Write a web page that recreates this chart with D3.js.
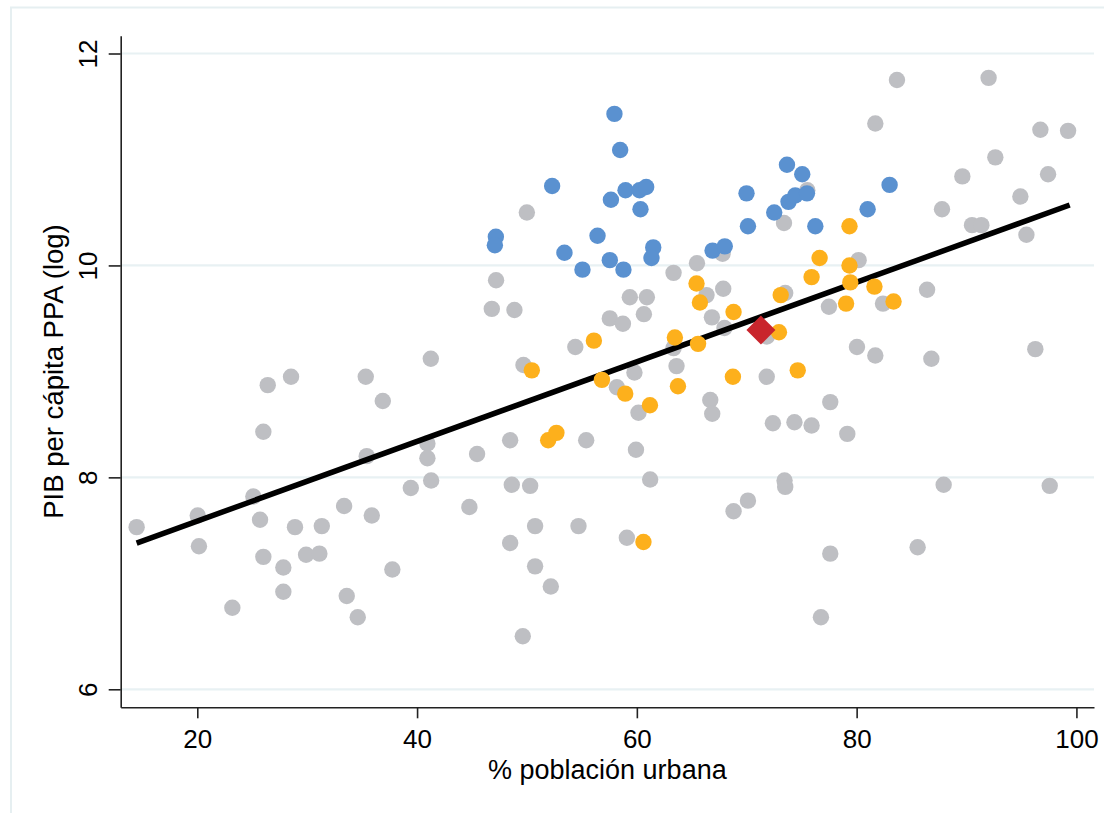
<!DOCTYPE html>
<html>
<head>
<meta charset="utf-8">
<script src="https://cdn.jsdelivr.net/npm/d3@7"></script>
<style>
  html, body { margin: 0; padding: 0; background: #ffffff; }
  svg { display: block; }
  text { font-family: Arial, "Liberation Sans", Helvetica, sans-serif; fill: #000; }
</style>
</head>
<body>
<svg id="chart" width="1104" height="813"></svg>
<script>
// ---------------- DATA ----------------
const xTicks = [20, 40, 60, 80, 100];
const yTicks = [6, 8, 10, 12];
const xTitle = "% población urbana";
const yTitle = "PIB per cápita PPA (log)";

// grey: rest of countries
const greyX = [83.67, 92.01, 81.70, 96.72, 99.24, 92.62, 89.62, 97.42, 94.90, 87.77,
  90.50, 91.35, 95.45, 73.39, 75.51, 80.18, 86.41, 73.50, 77.48, 82.40,
  80.03, 81.70, 86.80, 96.26, 71.82, 71.83, 67.97, 49.99, 47.19, 46.80,
  48.86, 41.25, 63.34, 65.47, 67.80, 67.86, 66.34, 59.36, 60.91, 60.64,
  57.54, 58.73, 66.83, 54.40, 49.68, 63.34, 63.61, 59.78, 58.18, 66.68,
  66.86, 60.15, 77.60, 72.38, 74.34, 75.90, 79.15, 59.92, 55.39, 48.47,
  45.46, 40.94, 40.94, 41.28, 39.43, 44.76, 48.62, 50.29, 50.74, 54.69,
  48.47, 59.09, 50.74, 52.17, 49.62, 61.21, 68.80, 70.11, 73.44, 73.50,
  77.60, 76.75, 85.55, 87.92, 97.57, 35.33, 36.88, 26.41, 28.53, 26.01,
  35.42, 14.48, 20.04, 20.15, 25.10, 25.71, 26.01, 28.89, 31.33, 29.90,
  31.11, 27.83, 27.83, 33.36, 35.88, 37.75, 33.60, 34.60, 23.19];
const greyY = [11.75, 11.77, 11.34, 11.28, 11.27, 11.02, 10.84, 10.86, 10.65, 10.53,
  10.38, 10.38, 10.29, 10.40, 10.71, 10.05, 9.77, 9.74, 9.61, 9.64,
  9.23, 9.15, 9.12, 9.21, 8.95, 9.33, 9.41, 10.50, 9.86, 9.59,
  9.58, 9.12, 9.93, 10.02, 10.11, 9.78, 9.72, 9.70, 9.70, 9.54,
  9.50, 9.45, 9.51, 9.23, 9.06, 9.22, 9.05, 8.99, 8.85, 8.73,
  8.60, 8.61, 8.71, 8.51, 8.52, 8.49, 8.41, 8.26, 8.35, 8.35,
  8.22, 8.32, 8.18, 7.97, 7.90, 7.72, 7.93, 7.92, 7.54, 7.54,
  7.38, 7.43, 7.16, 6.97, 6.50, 7.98, 7.68, 7.78, 7.97, 7.91,
  7.28, 6.68, 7.34, 7.93, 7.92, 8.95, 8.72, 8.87, 8.95, 8.43,
  8.20, 7.53, 7.64, 7.35, 7.82, 7.60, 7.25, 7.53, 7.54, 7.27,
  7.28, 7.15, 6.92, 7.73, 7.64, 7.13, 6.88, 6.68, 6.77];

// blue group
const blueX = [57.96, 58.48, 52.29, 57.64, 58.97, 60.24, 60.85, 60.33, 69.98, 73.66,
  75.05, 72.50, 70.11, 73.80, 74.41, 75.48, 76.24, 83.00, 81.00, 47.17,
  47.08, 53.41, 56.42, 55.05, 57.54, 58.78, 61.49, 61.33, 66.89, 68.00];
const blueY = [11.43, 11.09, 10.75, 10.62, 10.71, 10.71, 10.74, 10.53, 10.68, 10.95,
  10.86, 10.50, 10.37, 10.60, 10.66, 10.68, 10.37, 10.76, 10.53, 10.27,
  10.19, 10.12, 10.28, 9.96, 10.05, 9.96, 10.17, 10.07, 10.14, 10.18];

// orange group
const orangeX = [65.43, 65.74, 68.80, 73.09, 72.93, 65.57, 63.46, 56.09, 50.44, 56.82,
  58.94, 63.74, 68.74, 74.64, 61.19, 79.35, 76.63, 79.35, 75.90, 79.42,
  81.62, 83.36, 79.04, 51.93, 52.68, 60.60];
const orangeY = [9.83, 9.65, 9.56, 9.72, 9.37, 9.26, 9.32, 9.29, 9.01, 8.92,
  8.79, 8.86, 8.95, 9.01, 8.68, 10.37, 10.07, 10.00, 9.89, 9.84,
  9.80, 9.66, 9.64, 8.35, 8.42, 7.39];

// highlighted country (red diamond)
const highlightX = [71.29];
const highlightY = [9.39];

// linear fit (fitted values)
const fitX = [14.48, 99.39];
const fitY = [7.38, 10.57];

// ---------------- CHART ----------------
const svg = d3.select("#chart");
const colors = { grey: "#bebfc3", blue: "#5a91d0", orange: "#fdb01c", red: "#c9252c", grid: "#e8f1f3", frame: "#e6eff1" };

const x = d3.scaleLinear().domain([13.03, 101.6]).range([120.7, 1094]);
const y = d3.scaleLinear().domain([5.83, 12.168]).range([707.3, 35.7]);

// outer frame (graph region outline, cropped)
svg.append("rect")
  .attr("x", 11).attr("y", 7.5)
  .attr("width", 1200).attr("height", 900)
  .attr("fill", "none")
  .attr("stroke", colors.frame)
  .attr("stroke-width", 2);

// gridlines
svg.append("g").selectAll("line").data(yTicks).join("line")
  .attr("x1", x.range()[0]).attr("x2", x.range()[1])
  .attr("y1", d => y(d)).attr("y2", d => y(d))
  .attr("stroke", colors.grid).attr("stroke-width", 2.2);

// grey points
const pts = (xs, ys) => xs.map((v, i) => [v, ys[i]]);
svg.append("g").selectAll("circle").data(pts(greyX, greyY)).join("circle")
  .attr("cx", d => x(d[0])).attr("cy", d => y(d[1])).attr("r", 8.2)
  .attr("fill", colors.grey);

// fitted line
svg.append("path")
  .datum(pts(fitX, fitY))
  .attr("d", d3.line().x(d => x(d[0])).y(d => y(d[1])))
  .attr("stroke", "#000").attr("stroke-width", 5.5).attr("fill", "none");

// blue points
svg.append("g").selectAll("circle").data(pts(blueX, blueY)).join("circle")
  .attr("cx", d => x(d[0])).attr("cy", d => y(d[1])).attr("r", 8.2)
  .attr("fill", colors.blue);

// orange points
svg.append("g").selectAll("circle").data(pts(orangeX, orangeY)).join("circle")
  .attr("cx", d => x(d[0])).attr("cy", d => y(d[1])).attr("r", 8.2)
  .attr("fill", colors.orange);

// highlighted diamond
svg.append("g").selectAll("path").data(pts(highlightX, highlightY)).join("path")
  .attr("transform", d => `translate(${x(d[0])},${y(d[1])})`)
  .attr("d", "M0,-14.5L14.5,0L0,14.5L-14.5,0Z")
  .attr("fill", colors.red);

// axes
const xAxis = svg.append("g")
  .attr("transform", `translate(0,${y.range()[0]})`)
  .call(d3.axisBottom(x).tickValues(xTicks).tickFormat(d3.format("d")).tickSize(11).tickSizeOuter(0));
xAxis.select(".domain").attr("stroke", "#222").attr("stroke-width", 1.6);
xAxis.selectAll(".tick line").attr("stroke", "#222").attr("stroke-width", 1.6);
xAxis.selectAll(".tick text")
  .attr("y", 41).attr("dy", 0)
  .attr("font-size", 26).attr("font-family", "Arial, 'Liberation Sans', sans-serif")
  .attr("fill", "#000");

const yAxis = svg.append("g")
  .attr("transform", `translate(${x.range()[0]},0)`)
  .call(d3.axisLeft(y).tickValues(yTicks).tickFormat(d3.format("d")).tickSize(12).tickSizeOuter(0));
yAxis.select(".domain").attr("stroke", "#222").attr("stroke-width", 1.6);
yAxis.selectAll(".tick line").attr("stroke", "#222").attr("stroke-width", 1.6);
yAxis.selectAll(".tick text")
  .attr("x", 0).attr("dy", 0)
  .attr("text-anchor", "middle")
  .attr("transform", "translate(-24,0) rotate(-90)")
  .attr("font-size", 26).attr("font-family", "Arial, 'Liberation Sans', sans-serif")
  .attr("fill", "#000");

// axis titles
svg.append("text")
  .attr("x", (x.range()[0] + x.range()[1]) / 2).attr("y", 778.5)
  .attr("text-anchor", "middle").attr("font-size", 27)
  .text(xTitle);

svg.append("text")
  .attr("transform", `translate(63,${(y.range()[0] + y.range()[1]) / 2}) rotate(-90)`)
  .attr("text-anchor", "middle").attr("font-size", 27.5)
  .text(yTitle);
</script>
</body>
</html>
